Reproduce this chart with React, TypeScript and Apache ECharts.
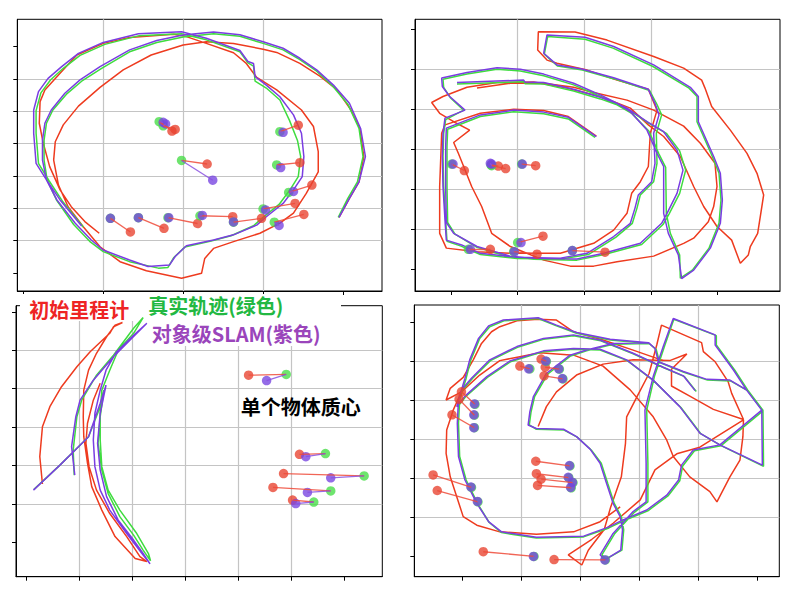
import React, { useEffect, useRef } from "react";
import * as echarts from "echarts";

type Pt = [number, number];

// ---------- Panel 1 (top-left) ----------
const p1Odom: Pt[] = [[0.95,1.23],[0.77,1.59],[0.60,2.05],[0.46,2.57],[0.33,3.29],[0.25,4.01],[0.20,4.63],[0.21,5.30],[0.27,5.66],[0.44,6.12],[0.67,6.74],[1.00,7.10],[1.33,7.28],[1.88,7.38],[2.04,7.31],[2.29,7.10],[2.63,6.81],[2.79,6.48],[2.92,6.05],[3.17,5.66],[3.48,5.04],[3.63,4.53],[3.69,3.75],[3.69,3.13],[3.54,2.46],[3.38,1.85],[3.21,1.54],[2.96,1.23],[2.63,0.97],[2.38,0.76],[2.27,0.45],[2.23,-0.01],[1.98,-0.16],[1.54,0.07],[1.21,0.35],[0.96,0.81],[0.75,1.43],[0.56,2.05],[0.44,2.72],[0.38,3.49],[0.40,4.06],[0.50,4.58],[0.69,5.16],[0.96,5.74],[1.25,6.28],[1.60,6.74],[2.00,7.05],[2.29,7.15],[2.63,7.10],[3.00,6.92],[3.17,6.82],[3.46,6.48],[3.71,6.09],[3.92,5.68],[4.10,5.04],[4.21,4.47],[4.26,3.60],[4.20,2.82],[4.08,2.31],[3.95,1.72]];
const p1Truth: Pt[] = [[0.75,1.42],[0.49,2.22],[0.32,2.86],[0.19,3.39],[0.16,4.32],[0.16,5.02],[0.22,5.57],[0.34,5.97],[0.50,6.33],[0.71,6.73],[1.02,7.07],[1.45,7.34],[1.98,7.40],[2.29,7.21],[2.71,6.84],[2.81,6.50],[2.88,6.40],[2.90,5.93],[3.04,5.72],[3.21,5.35],[3.33,4.72],[3.43,4.10],[3.47,3.60],[3.44,2.98],[3.33,2.55],[3.20,2.12],[3.00,1.72],[2.88,1.46],[2.60,1.15],[2.35,0.99],[2.02,0.80],[1.88,0.47],[1.81,0.17],[1.69,0.15],[1.33,0.35],[1.00,0.66],[0.83,0.98],[0.63,1.50],[0.42,2.24],[0.30,2.86],[0.26,3.49],[0.26,4.11],[0.29,4.63],[0.37,5.04],[0.54,5.53],[0.73,5.93],[0.98,6.33],[1.33,6.84],[1.67,7.13],[2.00,7.30],[2.38,7.40],[2.71,7.32],[3.00,7.10],[3.25,6.90],[3.46,6.60],[3.67,6.24],[3.87,5.78],[4.06,5.22],[4.20,4.47],[4.25,3.60],[4.18,2.82],[4.06,2.31],[3.94,1.72]];
const p1Slam: Pt[] = [[0.73,1.45],[0.46,2.26],[0.29,2.88],[0.16,3.39],[0.13,4.32],[0.13,5.04],[0.19,5.61],[0.31,6.02],[0.48,6.38],[0.69,6.79],[1.00,7.13],[1.44,7.40],[1.98,7.46],[2.29,7.26],[2.71,6.88],[2.81,6.54],[2.88,6.48],[2.90,6.07],[3.04,5.81],[3.21,5.45],[3.38,4.89],[3.48,4.32],[3.51,3.60],[3.49,2.98],[3.38,2.57],[3.25,2.15],[3.04,1.74],[2.92,1.48],[2.63,1.18],[2.38,1.02],[2.04,0.84],[1.90,0.51],[1.83,0.25],[1.56,0.20],[1.33,0.40],[1.00,0.71],[0.85,1.02],[0.65,1.54],[0.42,2.26],[0.29,2.88],[0.24,3.49],[0.24,4.11],[0.27,4.63],[0.35,5.04],[0.52,5.56],[0.71,5.97],[0.96,6.38],[1.33,6.90],[1.67,7.19],[2.00,7.36],[2.38,7.45],[2.71,7.37],[3.00,7.15],[3.25,6.95],[3.46,6.64],[3.67,6.28],[3.88,5.81],[4.08,5.25],[4.22,4.47],[4.28,3.60],[4.20,2.82],[4.08,2.31],[3.95,1.72]];
const p1ObjTruth: Pt[] = [[1.70,4.68],[1.75,4.55],[1.98,3.48],[3.21,4.37],[3.17,3.34],[3.32,2.49],[3.00,1.98],[3.14,1.57],[2.21,1.77],[2.63,1.57],[1.81,1.71],[1.44,1.71],[1.09,1.69]];
const p1ObjSlam: Pt[] = [[1.75,4.66],[1.78,4.61],[2.37,2.87],[3.25,4.35],[3.22,3.26],[3.38,2.52],[3.03,1.95],[3.20,1.47],[2.24,1.78],[2.63,1.58],[1.82,1.71],[1.44,1.71],[1.09,1.69]];
const p1ObjOdom: Pt[] = [[1.86,4.39],[1.90,4.44],[2.30,3.37],[3.44,4.57],[3.46,3.41],[3.61,2.72],[3.40,2.15],[3.51,1.81],[2.62,1.74],[2.98,1.69],[2.18,1.53],[1.76,1.38],[1.34,1.27]];

// ---------- Panel 2 (top-right) ----------
const p2Odom: Pt[] = [[0.39,4.53],[0.89,4.65],[1.39,4.65],[1.84,4.55],[2.14,4.42],[2.64,4.23],[3.04,3.98],[3.49,3.58],[3.74,3.15],[3.96,2.65],[3.99,2.07],[3.94,1.57],[3.86,1.19],[3.64,0.78],[3.49,0.65],[3.04,0.33],[2.49,0.19],[2.14,0.08],[1.79,0.08],[1.39,0.23],[0.89,0.57],[0.61,0.90],[0.46,1.57],[0.31,2.07],[0.19,2.57],[0.11,2.90],[0.04,3.17],[0.28,3.48],[0.04,3.69],[-0.17,3.90],[-0.29,4.17],[-0.12,4.32],[0.24,4.55],[0.69,4.67],[1.24,4.68],[1.74,4.53],[2.24,4.32],[2.69,4.03],[2.96,3.61],[3.19,3.32],[3.44,2.82],[3.64,2.07],[3.79,1.57],[3.99,1.07],[4.21,0.73],[4.34,0.15],[4.46,0.36],[4.49,0.57],[4.60,0.90],[4.69,1.86],[4.59,2.40],[4.44,2.90],[4.19,3.48],[3.91,4.07],[3.81,4.53],[3.76,4.73],[3.49,5.03],[3.04,5.32],[2.34,5.73],[1.86,5.93],[1.31,5.94],[1.30,5.48],[1.44,5.23],[1.59,5.15],[2.04,4.98],[2.49,4.73],[2.96,4.50],[3.09,3.98],[2.99,3.40],[2.96,2.57],[2.84,2.19],[2.71,1.90],[2.64,1.40],[2.44,0.98],[2.14,0.65],[1.64,0.40],[0.94,0.40],[0.39,0.44],[-0.07,0.53],[-0.17,0.90],[-0.17,2.07],[-0.14,3.40],[-0.09,3.61],[0.44,3.90],[0.94,4.00],[1.39,3.97],[1.76,3.82],[2.18,3.33]];
const p2Truth: Pt[] = [[0.09,4.63],[1.09,4.69],[1.11,4.64],[1.39,4.63],[1.84,4.46],[2.24,4.26],[2.49,4.11],[2.71,3.90],[2.97,3.45],[3.12,2.88],[3.22,2.55],[3.23,1.40],[3.29,0.90],[3.43,0.36],[3.44,-0.22],[3.62,-0.02],[3.87,0.53],[4.02,1.15],[4.05,1.73],[4.02,2.40],[3.92,2.82],[3.69,3.69],[3.69,4.32],[3.57,4.53],[3.03,5.07],[2.43,5.53],[2.01,5.75],[1.45,5.82],[1.40,5.38],[1.60,5.08],[1.97,4.98],[2.45,4.76],[2.98,4.47],[3.09,4.12],[3.16,3.86],[3.08,3.40],[3.09,2.65],[3.04,2.19],[2.84,1.86],[2.79,1.53],[2.72,1.15],[2.47,0.80],[2.06,0.37],[1.65,0.26],[0.99,0.27],[0.44,0.37],[0.15,0.58],[-0.06,0.70],[-0.08,1.23],[-0.11,2.07],[-0.12,2.82],[-0.11,3.40],[-0.08,3.74],[0.19,3.98],[-0.01,4.29],[-0.11,4.55],[-0.12,4.75],[0.24,4.88],[0.69,5.00],[1.04,4.96],[1.39,4.84],[1.84,4.61],[2.24,4.32],[2.66,3.99],[2.97,3.65],[3.23,3.40],[3.43,2.96],[3.52,2.48],[3.43,1.90],[3.27,1.38],[3.18,1.12],[2.86,0.62],[2.30,0.37],[1.89,0.23],[1.24,0.25],[0.89,0.30],[0.39,0.55],[0.06,0.88],[-0.05,1.17],[-0.06,2.07],[-0.06,3.07],[-0.05,3.50],[0.44,3.82],[0.94,3.94],[1.39,3.89],[1.76,3.76],[2.16,3.30]];
const p2Slam: Pt[] = [[0.09,4.67],[1.09,4.73],[1.11,4.68],[1.39,4.67],[1.84,4.50],[2.24,4.30],[2.49,4.15],[2.69,3.94],[2.94,3.48],[3.09,2.90],[3.19,2.57],[3.19,1.40],[3.26,0.90],[3.41,0.36],[3.46,-0.23],[3.64,-0.02],[3.89,0.53],[4.04,1.15],[4.07,1.73],[4.04,2.40],[3.94,2.82],[3.71,3.69],[3.71,4.32],[3.59,4.55],[3.04,5.11],[2.44,5.57],[2.01,5.80],[1.44,5.86],[1.39,5.40],[1.59,5.11],[1.96,5.01],[2.44,4.79],[2.96,4.50],[3.06,4.15],[3.12,3.86],[3.04,3.40],[3.06,2.65],[3.01,2.19],[2.81,1.86],[2.76,1.53],[2.69,1.15],[2.44,0.82],[2.04,0.40],[1.64,0.28],[0.99,0.30],[0.44,0.40],[0.16,0.61],[-0.07,0.73],[-0.09,1.23],[-0.12,2.07],[-0.13,2.82],[-0.12,3.40],[-0.09,3.78],[0.21,3.98],[-0.02,4.32],[-0.13,4.57],[-0.14,4.78],[0.24,4.92],[0.69,5.04],[1.04,5.00],[1.39,4.88],[1.84,4.65],[2.24,4.36],[2.64,4.03],[2.94,3.69],[3.19,3.44],[3.39,2.98],[3.48,2.48],[3.39,1.90],[3.24,1.40],[3.16,1.15],[2.84,0.65],[2.29,0.40],[1.89,0.26],[1.24,0.28],[0.89,0.33],[0.39,0.57],[0.04,0.90],[-0.07,1.17],[-0.08,2.07],[-0.08,3.07],[-0.07,3.53],[0.44,3.86],[0.94,3.98],[1.39,3.93],[1.76,3.80],[2.18,3.32]];
const p2ObjTruth: Pt[] = [[0.01,2.63],[0.60,2.61],[0.61,2.59],[1.06,2.63],[1.00,0.67],[0.26,0.50],[0.94,0.44],[1.82,0.47]];
const p2ObjSlam: Pt[] = [[0.03,2.63],[0.59,2.65],[0.61,2.63],[1.07,2.63],[1.05,0.67],[0.29,0.50],[0.95,0.44],[1.82,0.47]];
const p2ObjOdom: Pt[] = [[0.20,2.47],[0.71,2.58],[0.82,2.52],[1.27,2.59],[1.38,0.83],[0.59,0.50],[1.29,0.38],[2.31,0.43]];

// ---------- Panel 3 (bottom-left) ----------
const p3Odom: Pt[] = [[0.31,1.52],[0.26,2.23],[0.31,3.01],[0.45,3.53],[0.67,4.05],[0.96,4.57],[1.21,4.96],[1.58,5.44],[1.65,5.61],[1.82,5.72],[1.68,5.65],[1.52,5.35],[1.33,4.92],[1.18,4.48],[1.09,3.96],[1.08,3.27],[1.09,2.75],[1.16,2.06],[1.24,1.45],[1.43,0.84],[1.68,0.15],[2.06,-0.42],[2.28,-0.50],[2.15,-0.37],[1.90,0.15],[1.58,0.75],[1.33,1.36],[1.19,1.97],[1.13,2.58],[1.16,3.10],[1.27,3.70],[1.40,4.14]];
const p3Truth: Pt[] = [[0.91,1.75],[0.89,2.40],[0.96,3.27],[1.05,3.70],[1.33,4.35],[1.65,4.87],[2.03,5.57],[2.21,5.85],[2.03,5.44],[1.74,5.00],[1.58,4.48],[1.43,3.96],[1.40,3.36],[1.40,2.66],[1.43,1.97],[1.55,1.36],[1.77,0.84],[2.09,0.23],[2.31,-0.29],[2.35,-0.48],[2.21,-0.20],[2.03,0.19],[1.77,0.67],[1.55,1.27],[1.43,1.88],[1.36,2.58],[1.40,3.27],[1.47,3.96],[1.40,3.53],[1.18,2.75],[0.64,2.01],[0.15,1.38]];
const p3Slam: Pt[] = [[0.92,1.75],[0.86,2.49],[0.94,3.27],[1.02,3.70],[1.27,4.22],[1.65,4.83],[1.96,5.26],[2.28,5.70],[2.03,5.39],[1.71,4.96],[1.51,4.48],[1.40,3.96],[1.30,3.36],[1.27,2.66],[1.30,1.97],[1.40,1.36],[1.58,0.84],[1.90,0.23],[2.21,-0.33],[2.34,-0.56],[2.21,-0.29],[2.03,0.06],[1.74,0.58],[1.52,1.19],[1.40,1.88],[1.35,2.58],[1.40,3.36],[1.51,4.09],[1.40,3.62],[1.18,2.75],[0.64,2.01],[0.14,1.36]];
const p3ObjTruth: Pt[] = [[4.91,4.37],[5.65,2.31],[6.38,1.73],[5.75,1.34],[5.43,1.05]];
const p3ObjSlam: Pt[] = [[4.54,4.21],[5.28,2.23],[5.75,1.68],[5.31,1.30],[5.09,1.01]];
const p3ObjOdom: Pt[] = [[4.20,4.35],[5.16,2.29],[4.86,1.79],[4.66,1.43],[5.03,1.10]];

// ---------- Panel 4 (bottom-right) ----------
const p4OdomA: Pt[] = [[1.28,3.32],[1.42,3.83],[1.59,4.21],[1.93,4.64],[2.38,4.92],[2.89,5.03],[3.51,5.01],[3.80,5.18],[3.54,4.79],[3.54,4.36],[3.85,4.10],[4.25,3.76],[4.76,3.50],[4.56,4.17],[4.50,4.47],[4.28,4.98],[4.08,5.24],[4.05,5.47],[3.37,5.92],[3.29,5.41],[3.16,4.68],[2.96,4.10],[2.78,3.57],[2.76,2.89],[2.69,2.03],[2.51,1.26],[2.40,0.68],[2.13,0.15],[2.02,-0.23],[1.79,0.03],[2.19,0.43],[2.55,0.84],[3.01,1.44],[3.26,2.21],[3.63,2.62],[4.02,2.79],[4.76,3.49],[4.75,3.06],[4.70,2.46],[4.53,2.03],[4.31,1.39],[4.19,1.65],[3.85,2.03],[3.57,2.55],[3.46,2.97],[3.23,3.57],[2.84,4.26],[2.38,4.87],[1.88,5.15],[1.31,5.21],[0.97,5.11],[0.63,5.01],[0.29,4.64],[-0.02,4.21],[-0.16,3.74],[-0.27,3.23],[-0.28,2.63],[-0.21,2.03],[0.01,1.01],[0.24,0.79],[0.63,0.62],[1.25,0.56],[1.88,0.62],[2.33,0.88],[2.67,1.26]];
const p4OdomB: Pt[] = [[-0.02,4.21],[-0.28,4.00],[-0.21,4.30],[0.01,4.58],[0.18,5.03],[0.32,5.45],[0.49,5.75],[0.63,5.88],[0.92,6.03],[1.28,6.07],[1.59,6.05],[1.88,5.75],[2.38,5.54],[2.89,5.28],[3.40,5.01]];
const p4Truth: Pt[] = [[3.96,4.22],[3.76,4.60],[3.42,4.82],[2.90,5.18],[2.34,5.52],[1.88,5.65],[1.37,5.56],[0.93,5.35],[0.48,5.02],[0.17,4.56],[0.00,4.26],[-0.08,3.83],[0.06,4.10],[0.42,4.58],[0.81,4.98],[1.37,5.24],[1.88,5.30],[2.33,5.28],[2.79,5.01],[3.24,4.49],[3.70,3.81],[4.04,3.13],[4.38,2.83],[5.10,2.30],[5.09,3.74],[4.83,4.26],[4.61,4.77],[4.30,5.41],[4.30,5.65],[3.58,6.07],[3.42,5.37],[3.25,4.60],[3.12,3.74],[3.14,2.38],[3.14,1.39],[2.91,1.12],[2.58,0.58],[2.36,0.03],[2.43,-0.08],[2.70,0.15],[2.73,0.67],[2.69,1.01],[2.57,1.35],[2.46,1.86],[2.35,2.38],[2.18,2.72],[1.95,3.04],[1.72,3.23],[1.25,3.25],[1.13,3.36],[1.16,3.70],[1.22,4.09],[1.44,4.66],[1.83,5.13],[2.10,5.26],[2.55,5.43],[3.16,5.45],[3.28,5.30],[3.34,4.96],[3.75,4.71],[4.15,4.51],[4.54,4.49],[4.83,4.24],[5.09,3.72],[4.38,2.83],[3.93,2.70],[3.73,2.31],[3.68,1.93],[3.48,1.54],[3.14,1.16],[2.73,0.90],[2.48,0.72],[2.05,0.49],[1.25,0.46],[0.66,0.60],[0.45,0.86],[0.26,1.33],[0.06,1.95],[-0.05,2.55],[-0.07,3.40],[-0.05,4.00],[0.06,4.56],[0.14,5.03],[0.29,5.58],[0.46,5.88],[0.70,6.03],[1.28,6.09],[1.59,5.90],[1.93,5.71],[2.50,5.54],[3.15,5.45]];
const p4Slam: Pt[] = [[3.94,4.24],[3.74,4.62],[3.40,4.84],[2.89,5.20],[2.33,5.54],[1.88,5.67],[1.37,5.58],[0.92,5.37],[0.46,5.03],[0.15,4.56],[-0.02,4.26],[-0.10,3.83],[0.04,4.10],[0.41,4.60],[0.80,5.00],[1.37,5.26],[1.88,5.32],[2.33,5.30],[2.78,5.03],[3.23,4.51],[3.68,3.83],[4.02,3.15],[4.36,2.85],[5.08,2.33],[5.07,3.74],[4.81,4.26],[4.59,4.77],[4.28,5.41],[4.28,5.67],[3.57,6.09],[3.40,5.37],[3.23,4.60],[3.09,3.74],[3.11,2.38],[3.11,1.39],[2.89,1.14],[2.55,0.58],[2.33,0.03],[2.41,-0.10],[2.68,0.15],[2.71,0.67],[2.67,1.01],[2.55,1.35],[2.44,1.86],[2.33,2.38],[2.16,2.74],[1.93,3.06],[1.71,3.25],[1.25,3.27],[1.11,3.36],[1.14,3.70],[1.20,4.09],[1.42,4.68],[1.82,5.15],[2.10,5.28],[2.55,5.45],[3.15,5.47],[3.26,5.32],[3.32,4.98],[3.74,4.73],[4.14,4.53],[4.53,4.51],[4.81,4.26],[5.07,3.74],[4.36,2.85],[3.91,2.72],[3.71,2.33],[3.66,1.95],[3.46,1.56],[3.12,1.18],[2.71,0.92],[2.47,0.74],[2.05,0.51],[1.25,0.48],[0.66,0.62],[0.44,0.88],[0.24,1.35],[0.04,1.95],[-0.07,2.55],[-0.09,3.40],[-0.07,4.00],[0.04,4.56],[0.12,5.03],[0.27,5.58],[0.44,5.90],[0.69,6.05],[1.28,6.11],[1.59,5.92],[1.93,5.73],[2.50,5.56],[3.15,5.47]];
const p4ObjTruth: Pt[] = [[1.14,4.80],[1.42,4.99],[1.64,4.79],[1.70,4.54],[0.21,3.89],[0.20,3.61],[0.20,3.29],[0.15,1.76],[0.26,1.39],[1.82,2.31],[1.80,2.01],[1.87,1.88],[1.84,1.75],[1.21,-0.01],[2.42,-0.10]];
const p4ObjSlam: Pt[] = [[1.12,4.80],[1.41,5.00],[1.63,4.80],[1.69,4.55],[0.20,3.90],[0.19,3.62],[0.19,3.29],[0.14,1.77],[0.25,1.40],[1.81,2.32],[1.79,2.02],[1.86,1.89],[1.83,1.76],[1.20,-0.01],[2.41,-0.10]];
const p4ObjOdom: Pt[] = [[0.97,4.87],[1.33,5.05],[1.40,4.84],[1.38,4.62],[-0.02,4.21],[-0.06,4.02],[-0.18,3.62],[-0.50,2.08],[-0.43,1.68],[1.24,2.43],[1.25,2.11],[1.33,1.97],[1.27,1.81],[0.35,0.11],[1.55,-0.09]];

// ---------- axis ticks / ranges ----------
const p1XTicks = [0, 1, 2, 3, 4];
const p1YTicks = [0, 1, 2, 3, 4, 5, 6, 7];
const p2XTicks = [0, 1, 2, 3, 4];
const p2YTicks = [0, 1, 2, 3, 4, 5, 6];
const p3XTicks = [0, 1, 2, 3, 4, 5, 6];
const p3YTicks = [0, 1, 2, 3, 4, 5, 6];
const p4XTicks = [0, 1, 2, 3, 4, 5];
const p4YTicks = [0, 1, 2, 3, 4, 5, 6];

const legendOdom = "初始里程计";
const legendTruth = "真实轨迹(绿色)";
const legendSlam = "对象级SLAM(紫色)";
const objLabel = "单个物体质心";

const RED = "#ee3b1f";
const GREEN = "#3fdc3f";
const PURPLE = "#7a3de2";
const DOT_RED = "#e8412e";
const DOT_GREEN = "#45dd45";
const DOT_PURPLE = "#7643e0";

const panels = [
  { rect: { left: 17.3, top: 19.3, width: 364.7, height: 271.7 }, x: [-0.075, 4.4875], y: [-0.557, 7.845], xt: p1XTicks, yt: p1YTicks,
    odom: [p1Odom], truth: [p1Truth], slam: [p1Slam], oO: p1ObjOdom, oT: p1ObjTruth, oS: p1ObjSlam },
  { rect: { left: 415, top: 19.3, width: 365, height: 271.7 }, x: [-0.54, 4.935], y: [-0.5417, 6.25], xt: p2XTicks, yt: p2YTicks,
    odom: [p2Odom], truth: [p2Truth], slam: [p2Slam], oO: p2ObjOdom, oT: p2ObjTruth, oS: p2ObjSlam },
  { rect: { left: 16, top: 305.7, width: 366.3, height: 271 }, x: [-0.189, 6.723], y: [-0.893, 6.158], xt: p3XTicks, yt: p3YTicks,
    odom: [p3Odom], truth: [p3Truth], slam: [p3Slam], oO: p3ObjOdom, oT: p3ObjTruth, oS: p3ObjSlam },
  { rect: { left: 414.3, top: 305, width: 365, height: 271.7 }, x: [-0.819, 5.367], y: [-0.53, 6.436], xt: p4XTicks, yt: p4YTicks,
    odom: [p4OdomA, p4OdomB], truth: [p4Truth], slam: [p4Slam], oO: p4ObjOdom, oT: p4ObjTruth, oS: p4ObjSlam },
];

function axisOpt(i: number, range: number[], ticks: number[]) {
  return {
    type: "value",
    gridIndex: i,
    min: range[0],
    max: range[1],
    axisLine: { show: true, onZero: false, lineStyle: { color: "#000", width: 1 } },
    axisTick: { show: true, inside: false, length: 4, customValues: ticks, lineStyle: { color: "#000", width: 1 } },
    axisLabel: { show: false },
    splitLine: { show: true, showMinLine: false, showMaxLine: false, lineStyle: { color: "#c4c4c4", width: 1.2 } },
    minInterval: 1,
    maxInterval: 1,
  };
}

export default function App() {
  const ref = useRef<HTMLDivElement>(null);
  useEffect(() => {
    if (!ref.current) return;
    const chart = echarts.init(ref.current, null, { renderer: "svg" });
    const series: any[] = [];
    panels.forEach((p, i) => {
      const line = (data: Pt[], color: string, z: number) => ({
        type: "line", xAxisIndex: i, yAxisIndex: i, data, showSymbol: false, symbol: "none",
        lineStyle: { color, width: 1.5 }, itemStyle: { color }, z, silent: true,
      });
      p.odom.forEach((s) => series.push(line(s, RED, 2)));
      p.truth.forEach((s) => series.push(line(s, GREEN, 2)));
      p.slam.forEach((s) => series.push(line(s, PURPLE, 2)));
      const dots = (data: Pt[], color: string, z: number) => ({
        type: "scatter", xAxisIndex: i, yAxisIndex: i, data, symbolSize: 9.5,
        itemStyle: { color, opacity: 0.78 }, z, silent: true,
      });
      series.push(dots(p.oO, DOT_RED, 3));
      series.push(dots(p.oT, DOT_GREEN, 3));
      series.push(dots(p.oS, DOT_PURPLE, 3));
      series.push({
        type: "lines", coordinateSystem: "cartesian2d", xAxisIndex: i, yAxisIndex: i,
        data: p.oO.map((o, k) => ({ coords: [o, p.oT[k]] })),
        lineStyle: { color: "#ee4a38", width: 1.3, opacity: 0.85 }, z: 4, silent: true,
      });
      series.push({
        type: "lines", coordinateSystem: "cartesian2d", xAxisIndex: i, yAxisIndex: i,
        data: p.oS.map((o, k) => ({ coords: [o, p.oT[k]] })),
        lineStyle: { color: "#8a50e0", width: 1.3, opacity: 0.85 }, z: 4, silent: true,
      });
    });
    const font = (size: number) => `bold ${size}px "Noto Sans CJK SC", sans-serif`;
    chart.setOption({
      animation: false,
      backgroundColor: "#fff",
      grid: panels.map((p) => ({ ...p.rect, show: true, borderColor: "#000", borderWidth: 1, backgroundColor: "transparent", containLabel: false, outerBoundsMode: "none" })),
      xAxis: panels.map((p, i) => axisOpt(i, p.x, p.xt)),
      yAxis: panels.map((p, i) => axisOpt(i, p.y, p.yt)),
      series,
      graphic: [
        { type: "rect", z: 1, silent: true, shape: { x: 20, y: 294, width: 321, height: 27 }, style: { fill: "#fff" } },
        { type: "rect", z: 1, silent: true, shape: { x: 150, y: 321, width: 178, height: 25 }, style: { fill: "#fff" } },
        { type: "text", z: 20, silent: true, x: 29.3, y: 309, style: { text: legendOdom, fill: "#ee2424", font: font(20), textAlign: "left", verticalAlign: "middle" } },
        { type: "text", z: 20, silent: true, x: 148.3, y: 305.3, style: { text: legendTruth, fill: "#22b842", font: font(20), textAlign: "left", verticalAlign: "middle" } },
        { type: "text", z: 20, silent: true, x: 151.7, y: 333.7, style: { text: legendSlam, fill: "#9a45bb", font: font(20), textAlign: "left", verticalAlign: "middle" } },
        { type: "text", z: 20, silent: true, x: 240.7, y: 406.7, style: { text: objLabel, fill: "#000", font: font(20), textAlign: "left", verticalAlign: "middle" } },
      ],
    });
    return () => chart.dispose();
  }, []);
  return <div ref={ref} style={{ position: "absolute", left: 0, top: 0, width: 794, height: 592 }} />;
}
